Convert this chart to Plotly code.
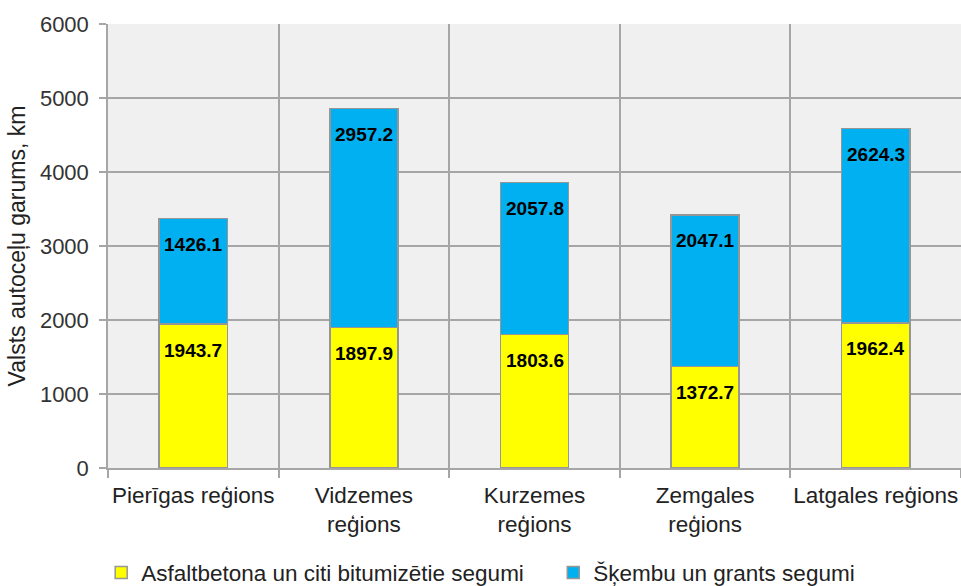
import plotly.graph_objects as go

categories = ["Pierīgas reģions", "Vidzemes<br>reģions", "Kurzemes<br>reģions", "Zemgales<br>reģions", "Latgales reģions"]
asphalt = [1943.7, 1897.9, 1803.6, 1372.7, 1962.4]
gravel = [1426.1, 2957.2, 2057.8, 2047.1, 2624.3]
series_names = ["Asfaltbetona un citi bitumizētie segumi", "Šķembu un grants segumi"]
y_ticks = [0, 1000, 2000, 3000, 4000, 5000, 6000]

FONT = "Liberation Sans, Arial, sans-serif"
GRID = "#A6A6A6"

fig = go.Figure()
fig.add_trace(go.Bar(x=categories, y=asphalt, name=series_names[0], legend="legend",
                     marker=dict(color="#FFFF00", line=dict(color="#969696", width=1.5))))
fig.add_trace(go.Bar(x=categories, y=gravel, name=series_names[1], legend="legend2",
                     marker=dict(color="#00B0F0", line=dict(color="#969696", width=1.5))))

annotations = []
for c, a, g in zip(categories, asphalt, gravel):
    annotations.append(dict(x=c, y=a, text=f"<b>{a:.1f}</b>", showarrow=False, yshift=-26,
                            yanchor="middle", font=dict(size=19, color="#000000", family=FONT)))
    annotations.append(dict(x=c, y=a + g, text=f"<b>{g:.1f}</b>", showarrow=False, yshift=-26,
                            yanchor="middle", font=dict(size=19, color="#000000", family=FONT)))

legend_common = dict(orientation="h", yanchor="middle", y=-0.236, xanchor="left",
                     font=dict(size=22.5, color="#222222"), bgcolor="rgba(0,0,0,0)",
                     itemwidth=30)

fig.update_layout(
    width=961, height=586,
    margin=dict(l=108, r=0, t=24, b=118, autoexpand=False),
    barmode="stack", bargap=0.6,
    plot_bgcolor="#F0F0F0", paper_bgcolor="#FFFFFF",
    font=dict(family=FONT, size=22, color="#333333"),
    showlegend=True,
    legend=dict(x=-0.008, **legend_common),
    legend2=dict(x=0.522, **legend_common),
    annotations=annotations,
    xaxis=dict(type="category", tickson="boundaries", showgrid=True, gridcolor=GRID, gridwidth=1.5,
               ticks="outside", ticklen=8, tickcolor=GRID, tickwidth=1.5, tickangle=0,
               showline=True, linecolor=GRID, linewidth=1.5, automargin=False,
               ticklabelstandoff=6,
               tickfont=dict(size=22.5, color="#222222")),
    yaxis=dict(range=[0, 6000], tickvals=y_ticks, showgrid=True, gridcolor=GRID, gridwidth=1.5,
               ticks="outside", ticklen=7, tickcolor=GRID, tickwidth=1.5,
               showline=True, linecolor=GRID, linewidth=1.5, zeroline=False, automargin=False,
               ticklabelstandoff=6,
               tickfont=dict(size=22, color="#333333"),
               title=dict(text="Valsts autoceļu garums, km", font=dict(size=23, color="#222222"), standoff=8)),
)

fig.write_html("out.html", post_script="document.body.style.margin='0';",
               config={"displayModeBar": False})
